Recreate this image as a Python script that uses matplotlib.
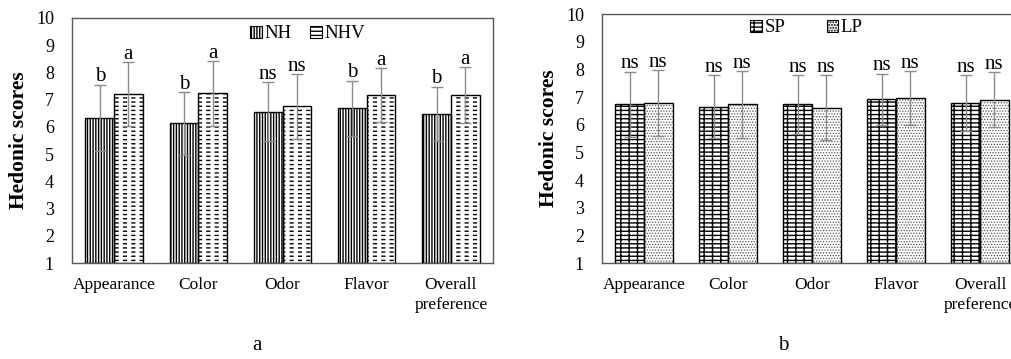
import numpy as np
import matplotlib.pyplot as plt
from matplotlib.patches import Patch

plt.rcParams['font.family'] = ['Liberation Serif', 'DejaVu Serif']

categories = ['Appearance', 'Color', 'Odor', 'Flavor', 'Overall\npreference']

# panel a
nh = [6.33, 6.13, 6.56, 6.68, 6.47]
nh_err = [1.22, 1.15, 1.08, 1.01, 1.00]
nhv = [7.20, 7.23, 6.75, 7.16, 7.16]
nhv_err = [1.18, 1.19, 1.18, 0.99, 1.03]
nh_lab = ['b', 'b', 'ns', 'b', 'b']
nhv_lab = ['a', 'a', 'ns', 'a', 'a']

# panel b
sp = [6.74, 6.65, 6.73, 6.91, 6.78]
sp_err = [1.18, 1.13, 1.05, 0.93, 1.00]
lp = [6.78, 6.73, 6.61, 6.97, 6.90]
lp_err = [1.19, 1.21, 1.17, 0.97, 0.99]
sp_lab = ['ns'] * 5
lp_lab = ['ns'] * 5

W = 0.34
ERR_C = '#8c8c8c'


def hatch_bars(ax, x, h, layers):
    # layers: list of (hatch, colour, hatch linewidth)
    for hatch, col, hlw in layers:
        bars = ax.bar(x, [v - 1 for v in h], W, bottom=1, color='none',
                      edgecolor=col, hatch=hatch, linewidth=0, zorder=2)
        for b in bars:
            if hasattr(b, 'set_hatch_linewidth'):
                b.set_hatch_linewidth(hlw)
    ax.bar(x, [v - 1 for v in h], W, bottom=1, color='none',
           edgecolor='black', linewidth=1.0, zorder=3)


def panel(ax, s1, e1, l1, s2, e2, l2, style1, style2, names, leg_x, leg_y, colsp):
    x = np.arange(len(categories))
    ax.bar(x - W / 2, [v - 1 for v in s1], W, bottom=1, color='white', zorder=1)
    ax.bar(x + W / 2, [v - 1 for v in s2], W, bottom=1, color='white', zorder=1)
    hatch_bars(ax, x - W / 2, s1, style1)
    hatch_bars(ax, x + W / 2, s2, style2)
    for off, s, e, lab in [(-W / 2, s1, e1, l1), (W / 2, s2, e2, l2)]:
        ax.errorbar(x + off, s, yerr=e, fmt='none', ecolor=ERR_C, elinewidth=1,
                    capsize=4, capthick=1, zorder=4)
        for xi, si, ei, t in zip(x + off, s, e, lab):
            ax.annotate(t, (xi, si + ei), xytext=(0, 2.5), textcoords='offset points',
                        ha='center', va='baseline', fontsize=15)
    ax.set_xlim(-0.5, 4.5)
    ax.set_ylim(1, 10)
    ax.set_yticks(range(1, 11))
    ax.set_xticks(x)
    ax.set_xticklabels(categories, fontsize=12.5, linespacing=1.35)
    ax.tick_params(axis='both', length=0, labelsize=12.5)
    ax.tick_params(axis='y', pad=13, labelsize=13)
    ax.tick_params(axis='x', pad=10)
    ax.set_ylabel('Hedonic scores', fontsize=15.5, fontweight='bold', labelpad=5)
    for sp_ in ax.spines.values():
        sp_.set_color('#5a5a5a')
        sp_.set_linewidth(1)
    handles = [Patch(facecolor='white', edgecolor='black', hatch=style1[0][0], linewidth=0.8),
               Patch(facecolor='white', edgecolor='black', hatch=style2[0][0], linewidth=0.8)]
    ax.legend(handles, names, loc='center', bbox_to_anchor=(leg_x, leg_y), ncol=2,
              frameon=False, fontsize=13.5, handlelength=0.6, handleheight=0.6,
              handletextpad=0.15, columnspacing=colsp, borderpad=0)


fig = plt.figure(figsize=(10.12, 3.59), dpi=100)
ax1 = fig.add_axes([72 / 1012, 1 - 263 / 359, 421 / 1012, 245 / 359])
ax2 = fig.add_axes([602 / 1012, 1 - 263 / 359, 420 / 1012, 249 / 359])

panel(ax1, nh, nh_err, nh_lab, nhv, nhv_err, nhv_lab,
      [('||||||', 'black', 1.0)],
      [('----', 'black', 1.0), ('||', 'white', 3.0)],
      ['NH', 'NHV'], 0.56, 0.935, 1.0)
panel(ax2, sp, sp_err, sp_lab, lp, lp_err, lp_lab,
      [('----||', 'black', 1.0)],
      [('......', '#555555', 0.6)],
      ['SP', 'LP'], 0.487, 0.945, 2.2)

fig.text(257 / 1012, 1 - 345 / 359, 'a', ha='center', va='center', fontsize=15)
fig.text(783 / 1012, 1 - 345 / 359, 'b', ha='center', va='center', fontsize=15)

fig.savefig('out.png', dpi=100)
